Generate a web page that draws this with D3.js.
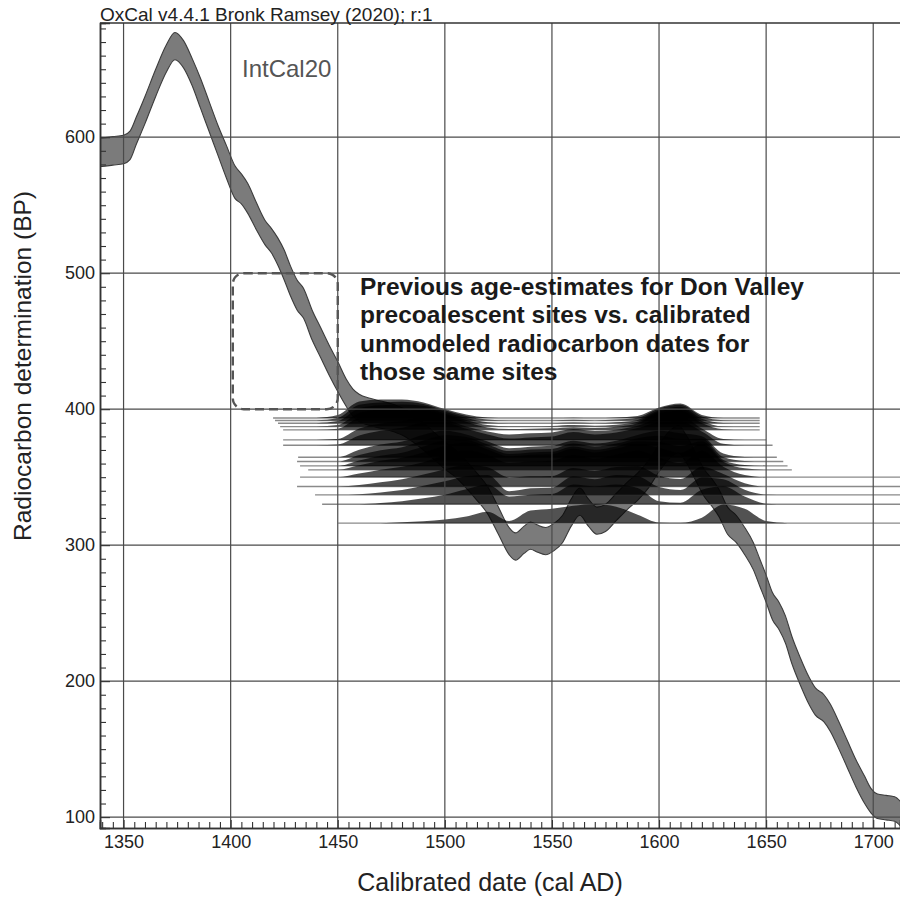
<!DOCTYPE html>
<html><head><meta charset="utf-8">
<script src="https://cdn.jsdelivr.net/npm/d3@7/dist/d3.min.js"></script>
<style>
body{margin:0;background:#fff}
svg{display:block}
text{font-family:"Liberation Sans",Arial,Helvetica,sans-serif}
</style>
</head><body>
<svg id="chart" width="900" height="897"></svg>
<script>
// ---------- IntCal20 calibration curve (cal AD, BP, 1-sigma) ----------
const curveYears = [1336,1340,1345,1350,1353,1356,1360,1365,1370,1374,1378,1382,1386,1390,1394,1398,1402,1405,1408,1412,1416,1419,1422,1425,1428,1431,1434,1438,1442,1446,1450,1454,1457,1460,1465,1470,1475,1480,1485,1490,1495,1500,1505,1510,1515,1520,1525,1530,1533,1537,1540,1543,1547,1551,1555,1559,1563,1567,1571,1575,1580,1585,1590,1595,1600,1605,1609,1613,1617,1621,1625,1628,1632,1636,1640,1644,1647,1650,1653,1656,1659,1662,1666,1670,1673,1677,1680,1684,1688,1692,1696,1699,1702,1706,1710,1714];
const curveBP    = [589,589,590,591,594,605,620,640,658,667,661,648,632,615,598,582,567,562,555,542,530,524,516,506,494,484,478,462,449,436,424,412,405,401,398,396,394,391,386,380,373,366,360,352,343,333,318,303,299,304,307,305,303,306,312,324,332,324,318,320,328,336,343,352,364,374,378,370,358,346,338,331,318,312,303,292,280,268,255,248,238,223,207,193,185,180,173,160,146,132,120,112,108,107,106,100];
const curveSigma = [10.5,10.5,10.5,10.5,10.5,10,10,10,10,10,10,10,11,11,11,12,12,11,11,10,9,9,10,11,11,11,11,11,11,11,11,10,10,10,10,10,10,10,10,10,10,10,10,10,10,10,10,10,10,10,10,10,10,10,10,10,10,10,10,10,10,10,10,10,10,10,10,10,10,10,10,10,10,10,10,10,10,10,10,10,10,10,10,10,10,10,10,10,10,10,10,9,9,9,9,9];

// ---------- Calibrated distributions (one per dated site) ----------
const distBP    = [393.5,391.7,389.7,387.2,384.8,377.4,373.5,364.7,361.5,358.3,355.4,350.0,343.1,337.0,330.1,316.2];
const distStart = [1419.8,1420.7,1422.1,1423.1,1424.5,1424.5,1424.5,1431.5,1431.0,1432.4,1436.2,1432.4,1431.0,1439.4,1442.7,1450.2];
const distEnd   = [1647,1647,1647,1647,1647,1650,1653,1655,1658,1660,1662,1720,1720,1720,1720,1720];
const distYears = [1440,1450,1460,1470,1480,1490,1500,1510,1520,1530,1540,1550,1560,1570,1580,1590,1600,1610,1620,1630,1640,1650,1660];
const site01 = [0,0.10,0.55,0.62,0.62,0.52,0.30,0.12,0.02,0,0,0,0.01,0,0.02,0.07,0.35,0.48,0.10,0,0,0,0];
const site02 = [0,0.08,0.52,0.60,0.62,0.55,0.34,0.15,0.03,0,0,0,0.02,0,0.03,0.09,0.40,0.52,0.13,0.01,0,0,0];
const site03 = [0,0.07,0.50,0.60,0.62,0.58,0.38,0.17,0.03,0,0,0,0.02,0,0.03,0.11,0.43,0.55,0.15,0.01,0,0,0];
const site04 = [0,0.05,0.46,0.58,0.62,0.62,0.44,0.22,0.05,0.01,0.01,0.02,0.05,0.03,0.06,0.16,0.50,0.60,0.19,0.01,0,0,0];
const site05 = [0,0.04,0.42,0.55,0.60,0.65,0.50,0.27,0.08,0.03,0.04,0.05,0.09,0.06,0.10,0.22,0.55,0.64,0.23,0.02,0,0,0];
const site06 = [0,0.03,0.38,0.55,0.62,0.75,0.68,0.45,0.28,0.18,0.22,0.25,0.36,0.30,0.34,0.47,0.72,0.78,0.38,0.03,0,0,0];
const site07 = [0,0.02,0.32,0.48,0.58,0.75,0.75,0.55,0.36,0.22,0.26,0.29,0.44,0.36,0.42,0.57,0.76,0.78,0.46,0.05,0,0,0];
const site08 = [0,0,0.25,0.42,0.52,0.75,0.88,0.76,0.52,0.30,0.35,0.38,0.55,0.46,0.55,0.74,0.88,0.80,0.70,0.12,0.01,0,0];
const site09 = [0,0,0.22,0.38,0.48,0.70,0.88,0.82,0.57,0.35,0.40,0.42,0.60,0.50,0.60,0.78,0.86,0.75,0.76,0.15,0.02,0,0];
const site10 = [0,0,0.18,0.34,0.44,0.65,0.85,0.86,0.62,0.40,0.45,0.47,0.65,0.54,0.65,0.82,0.80,0.66,0.82,0.20,0.03,0,0];
const site11 = [0,0,0.15,0.30,0.40,0.58,0.80,0.90,0.68,0.45,0.50,0.52,0.70,0.58,0.70,0.86,0.74,0.57,0.86,0.27,0.05,0,0];
const site12 = [0,0,0.12,0.25,0.35,0.50,0.72,0.90,0.74,0.48,0.52,0.55,0.74,0.62,0.75,0.88,0.65,0.47,0.88,0.35,0.07,0,0];
const site13 = [0,0,0.05,0.14,0.24,0.40,0.58,0.72,0.64,0.30,0.34,0.35,0.62,0.52,0.65,0.68,0.36,0.25,0.66,0.42,0.11,0,0];
const site14 = [0,0,0.02,0.08,0.16,0.30,0.45,0.62,0.66,0.12,0.22,0.24,0.62,0.52,0.66,0.62,0.26,0.16,0.58,0.52,0.17,0.01,0];
const site15 = [0,0,0,0.04,0.10,0.20,0.32,0.50,0.66,0.26,0.32,0.34,0.66,0.60,0.66,0.54,0.10,0.05,0.48,0.60,0.26,0.02,0];
const site16 = [0,0,0,0,0.03,0.06,0.12,0.22,0.38,0.07,0.42,0.48,0.58,0.64,0.55,0.28,0.02,0.01,0.18,0.62,0.48,0.07,0];
const distProbs = [site01,site02,site03,site04,site05,site06,site07,site08,site09,site10,site11,site12,site13,site14,site15,site16];

// ---------- Axes, labels, annotation ----------
const xTicks = [1350,1400,1450,1500,1550,1600,1650,1700];
const yTicks = [100,200,300,400,500,600];
const xDomain = [1339,1712.5];
const yDomain = [92,684];
const boxYears = [1401,1450];
const boxBP = [400,500];
const headerText = "OxCal v4.4.1 Bronk Ramsey (2020); r:1";
const curveLabel = "IntCal20";
const xTitle = "Calibrated date (cal AD)";
const yTitle = "Radiocarbon determination (BP)";
const noteLines = ["Previous age-estimates for Don Valley","precoalescent sites vs. calibrated","unmodeled radiocarbon dates for","those same sites"];

// ---------- Drawing ----------
const svg = d3.select("#chart");
const L = 100, R = 900, T = 23, B = 828;
const x = d3.scaleLinear().domain(xDomain).range([L, R]);
const y = d3.scaleLinear().domain(yDomain).range([B, T]);
const h = d3.scaleLinear().domain([0,1]).range([0,30]);

svg.append("defs").append("clipPath").attr("id","plot")
  .append("rect").attr("x",L).attr("y",T).attr("width",R-L).attr("height",B-T);
const g = svg.append("g").attr("clip-path","url(#plot)");

// calibration curve band
const curve = curveYears.map((yr,i)=>({yr, bp:curveBP[i], s:curveSigma[i]}));
g.append("path").datum(curve)
  .attr("d", d3.area().x(d=>x(d.yr)).y0(d=>y(d.bp-d.s)).y1(d=>y(d.bp+d.s)).curve(d3.curveMonotoneX))
  .attr("fill","#7b7b7b").attr("stroke","#3c3c3c").attr("stroke-width",1.1);

// baselines of distributions
distBP.forEach((bp,i)=>{
  g.append("line")
    .attr("x1",x(distStart[i])).attr("x2",x(distEnd[i]))
    .attr("y1",y(bp)).attr("y2",y(bp))
    .attr("stroke","#8a8a8a").attr("stroke-width",1.4);
});

// distributions
distProbs.forEach((probs,i)=>{
  const base = distBP[i];
  const data = distYears.map((yr,j)=>({yr, p:probs[j]}));
  g.append("path").datum(data)
    .attr("d", d3.area().x(d=>x(d.yr)).y0(()=>y(base)).y1(d=>y(base)-h(d.p)).curve(d3.curveMonotoneX))
    .attr("fill","#000").attr("fill-opacity",0.68);
});

// grid
const grid = svg.append("g").attr("stroke","#4a4a4a").attr("stroke-width",1.2);
xTicks.forEach(t=>grid.append("line").attr("x1",x(t)).attr("x2",x(t)).attr("y1",T).attr("y2",B));
yTicks.forEach(t=>grid.append("line").attr("x1",L).attr("x2",R).attr("y1",y(t)).attr("y2",y(t)));

// frame
svg.append("line").attr("x1",L).attr("x2",R).attr("y1",T).attr("y2",T).attr("stroke","#333").attr("stroke-width",1.4);

// axes
const yMinor = d3.range(100,684,10).filter(v=>v%100!==0);
const xMinor = d3.range(1340,1713,5).filter(v=>v%50!==0);
svg.append("g").attr("transform",`translate(${L},0)`)
  .call(d3.axisLeft(y).tickValues(yTicks).tickSize(-10).tickPadding(5).tickFormat(d3.format("d")));
svg.append("g").attr("transform",`translate(${L},0)`)
  .call(d3.axisLeft(y).tickValues(yMinor).tickSize(-6).tickFormat(""));
svg.append("g").attr("transform",`translate(0,${B})`)
  .call(d3.axisBottom(x).tickValues(xTicks).tickSize(-8).tickPadding(7).tickFormat(d3.format("d")));
svg.append("g").attr("transform",`translate(0,${B})`)
  .call(d3.axisBottom(x).tickValues(xMinor).tickSize(-6).tickFormat(""));
svg.selectAll(".domain").attr("stroke","#333").attr("stroke-width",1.5);
svg.selectAll(".tick line").attr("stroke","#333").attr("stroke-width",1.1);
svg.selectAll(".tick text").attr("font-size",18).attr("fill","#222")
  .style("font-family",'"Liberation Sans",Arial,sans-serif');

// dashed box
svg.append("rect")
  .attr("x",x(boxYears[0])).attr("y",y(boxBP[1]))
  .attr("width",x(boxYears[1])-x(boxYears[0])).attr("height",y(boxBP[0])-y(boxBP[1]))
  .attr("rx",11).attr("ry",11)
  .attr("fill","none").attr("stroke","#555").attr("stroke-width",2.4).attr("stroke-dasharray","9,5");

// texts
svg.append("text").attr("x",L).attr("y",20.5).attr("font-size",19).attr("fill","#222").text(headerText);
svg.append("text").attr("x",242).attr("y",77).attr("font-size",24).attr("fill","#555").text(curveLabel);
svg.append("text").attr("x",490).attr("y",891).attr("text-anchor","middle").attr("font-size",25).attr("fill","#222").text(xTitle);
svg.append("text").attr("transform","translate(31,366) rotate(-90)").attr("text-anchor","middle").attr("font-size",24.5).attr("fill","#222").text(yTitle);
const note = svg.append("text").attr("font-size",24.5).attr("font-weight","bold").attr("fill","#1a1a1a");
noteLines.forEach((s,i)=>note.append("tspan").attr("x",360).attr("y",295+i*28.4).text(s));
</script>
</body></html>
